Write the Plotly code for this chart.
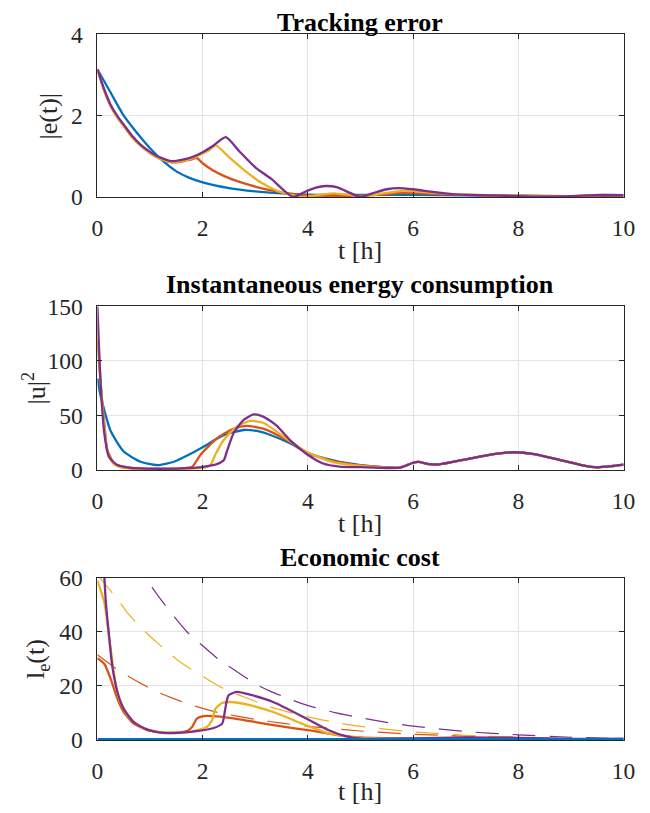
import plotly.graph_objects as go

# ---------------- data ----------------
# MATLAB default colour order
C_BLUE, C_ORANGE, C_YELLOW, C_PURPLE = "#0072BD", "#D95319", "#EDB120", "#7E2F8E"

# Tracking error |e(t)|
e_blue_t = [0, 0.25, 0.5, 0.75, 1.0, 1.25, 1.5, 1.75, 2.0, 2.5, 3.0, 3.5, 4.0, 5.0, 6.0, 7.0, 8.0, 9.0, 10.0]
e_blue_v = [3.14, 2.57, 2.0, 1.58, 1.2, 0.88, 0.63, 0.47, 0.36, 0.22, 0.14, 0.09, 0.06, 0.05, 0.05, 0.04, 0.03, 0.02, 0.02]

e_orange_t = [0, 0.12, 0.25, 0.4, 0.5, 0.65, 0.82, 1.0, 1.14, 1.3, 1.42, 1.6, 1.75, 1.89, 2.0, 2.2, 2.4, 2.7, 3.03, 3.35, 3.66, 4.0, 4.5, 5.0, 5.4, 5.8, 6.3, 7.0, 8.0, 9.0, 9.6, 10.0]
e_orange_v = [3.14, 2.65, 2.24, 1.92, 1.75, 1.49, 1.26, 1.08, 0.97, 0.89, 0.85, 0.87, 0.91, 0.955, 0.83, 0.65, 0.52, 0.37, 0.245, 0.15, 0.08, 0.04, 0.03, 0.03, 0.06, 0.1, 0.08, 0.05, 0.03, 0.02, 0.04, 0.04]

e_yellow_t = [0, 0.12, 0.25, 0.4, 0.5, 0.65, 0.82, 1.0, 1.14, 1.3, 1.42, 1.6, 1.8, 2.0, 2.12, 2.25, 2.5, 2.8, 3.1, 3.4, 3.66, 3.9, 4.2, 4.5, 4.8, 5.0, 5.4, 5.8, 6.3, 7.0, 8.0, 8.5, 9.0, 9.6, 10.0]
e_yellow_v = [3.14, 2.65, 2.24, 1.92, 1.75, 1.49, 1.26, 1.08, 0.97, 0.89, 0.86, 0.88, 0.95, 1.07, 1.15, 1.27, 0.98, 0.65, 0.36, 0.16, 0.06, 0.0, 0.05, 0.09, 0.05, 0.01, 0.08, 0.15, 0.11, 0.06, 0.03, 0.0, 0.02, 0.05, 0.045]

e_purple_t = [0, 0.12, 0.25, 0.4, 0.5, 0.65, 0.82, 1.0, 1.14, 1.3, 1.42, 1.6, 1.8, 2.0, 2.2, 2.44, 2.7, 3.0, 3.3, 3.72, 3.95, 4.15, 4.34, 4.55, 4.8, 5.0, 5.25, 5.5, 5.72, 6.0, 6.4, 6.8, 7.5, 8.0, 8.4, 9.0, 9.57, 10.0]
e_purple_v = [3.14, 2.68, 2.27, 1.95, 1.78, 1.52, 1.29, 1.11, 1.0, 0.92, 0.88, 0.91, 0.98, 1.1, 1.26, 1.47, 1.12, 0.73, 0.45, 0.0, 0.13, 0.23, 0.27, 0.24, 0.1, 0.0, 0.1, 0.19, 0.22, 0.19, 0.12, 0.065, 0.04, 0.02, 0.0, 0.02, 0.05, 0.045]

# Instantaneous energy consumption |u|^2
u_blue_t = [0, 0.06, 0.13, 0.25, 0.5, 0.82, 1.14, 1.45, 1.77, 2.0, 2.4, 2.78, 3.03, 3.35, 3.66, 4.0, 4.5, 5.0, 5.5, 5.75, 6.0, 6.1, 6.3, 6.5, 7.0, 7.5, 7.9, 8.3, 8.8, 9.2, 9.5, 9.8, 10.0]
u_blue_v = [84, 68, 55, 36, 17, 7.6, 4.6, 7.6, 15, 21, 32, 36.7, 35.8, 31, 24.5, 15.5, 8.6, 4.6, 2.5, 2.2, 6.7, 7.4, 5.5, 5.2, 9.8, 14.4, 16.3, 14.7, 9.2, 4.6, 2.5, 3.7, 4.9]

u_orange_t = [0, 0.06, 0.13, 0.19, 0.32, 0.5, 0.8, 1.2, 1.6, 1.8, 1.96, 2.27, 2.59, 2.84, 3.15, 3.66, 4.0, 4.5, 5.0, 5.5, 5.75, 6.0, 6.1, 6.3, 6.5, 7.0, 7.5, 7.9, 8.3, 8.8, 9.2, 9.5, 9.8, 10.0]
u_orange_v = [119, 80, 43, 18, 6, 3, 1.5, 1, 1.5, 3, 14, 29, 38, 40.4, 38, 26, 15.5, 8, 4.2, 2.4, 2.2, 6.7, 7.4, 5.5, 5.2, 9.8, 14.4, 16.3, 14.7, 9.2, 4.6, 2.5, 3.7, 4.9]

u_yellow_t = [0, 0.06, 0.13, 0.19, 0.3, 0.45, 0.7, 1.0, 1.5, 2.0, 2.15, 2.24, 2.4, 2.65, 2.9, 3.15, 3.66, 4.0, 4.5, 5.0, 5.5, 5.75, 6.0, 6.1, 6.3, 6.5, 7.0, 7.5, 7.9, 8.3, 8.8, 9.2, 9.5, 9.8, 10.0]
u_yellow_v = [132, 82, 40, 16, 6, 2.5, 1.2, 1, 1, 2, 4.6, 14, 27.5, 40, 45, 43.4, 26.5, 16, 7, 3.8, 2.3, 2.2, 6.7, 7.4, 5.5, 5.2, 9.8, 14.4, 16.3, 14.7, 9.2, 4.6, 2.5, 3.7, 4.9]

u_purple_t = [0, 0.06, 0.13, 0.22, 0.38, 0.6, 0.82, 1.2, 1.6, 2.0, 2.27, 2.4, 2.46, 2.59, 2.78, 2.97, 3.15, 3.4, 3.66, 3.97, 4.29, 4.6, 5.0, 5.5, 5.75, 6.0, 6.1, 6.3, 6.5, 7.0, 7.5, 7.9, 8.3, 8.8, 9.2, 9.5, 9.8, 10.0]
u_purple_v = [150, 80, 34, 12, 4.6, 2.2, 1.5, 1.2, 1.5, 3, 5.5, 9, 17, 34, 46, 51, 49, 41, 27.5, 15, 6, 3.2, 2.6, 1.9, 2.2, 6.7, 7.4, 5.5, 5.2, 9.8, 14.4, 16.3, 14.7, 9.2, 4.6, 2.5, 3.7, 4.9]

# Economic cost l_e(t): solid = realised cost, dashed = reference bound
l_blue_t = [0, 10]
l_blue_v = [0, 0]

l_orange_t = [0, 0.13, 0.25, 0.38, 0.5, 0.69, 0.95, 1.32, 1.7, 1.8, 1.89, 2.02, 2.27, 2.7, 3.0, 3.5, 4.0, 4.5, 5.0, 6.0, 7.0, 8.0, 9.0, 10.0]
l_orange_v = [30.3, 28.2, 22.7, 15.3, 10.4, 6.1, 3.7, 2.7, 3.4, 4.9, 8.0, 8.9, 8.8, 7.7, 6.7, 5.1, 3.7, 2.1, 1.0, 0.6, 0.5, 0.4, 0.2, 0.1]

l_yellow_t = [0, 0.13, 0.22, 0.32, 0.41, 0.57, 0.82, 1.14, 1.77, 2.08, 2.18, 2.24, 2.37, 2.52, 2.9, 3.34, 3.97, 4.4, 5.0, 6.0, 7.0, 8.0, 9.0, 10.0]
l_yellow_v = [58.8, 50.9, 38.6, 23.9, 15.3, 9.2, 4.9, 3.1, 3.1, 4.9, 7.4, 11.6, 13.7, 14.1, 12.9, 10.4, 5.5, 2.5, 0.9, 0.6, 0.7, 0.6, 0.3, 0.2]

l_purple_t = [0, 0.1, 0.16, 0.22, 0.28, 0.38, 0.5, 0.69, 0.95, 1.26, 1.77, 2.21, 2.37, 2.43, 2.49, 2.65, 2.9, 3.34, 3.97, 4.4, 4.7, 5.0, 6.0, 7.0, 8.0, 9.0, 10.0]
l_purple_v = [110, 72, 50.9, 38.6, 27.6, 17.8, 11.6, 6.7, 3.9, 2.7, 3.1, 4.5, 6.1, 11.6, 16.5, 17.8, 16.8, 14.1, 8.0, 3.7, 1.6, 0.6, 0.7, 1.0, 0.9, 0.5, 0.6]

lref_orange_t = [0, 0.4, 0.7, 1.1, 1.4, 1.85, 2.3, 3.0, 3.5, 4.0, 5.0, 6.0, 7.0, 8.0, 9.0, 10.0]
lref_orange_v = [31.5, 25.8, 22.3, 18.1, 15.7, 12.6, 10.2, 7.7, 6.3, 5.1, 3.4, 2.2, 1.5, 1.0, 0.6, 0.4]

lref_yellow_t = [0, 0.38, 0.57, 0.91, 1.14, 1.51, 1.77, 2.2, 2.46, 2.9, 3.22, 4.0, 4.6, 5.0, 6.0, 7.0, 8.0, 9.0, 10.0]
lref_yellow_v = [61, 52, 47, 40, 35.9, 29.8, 26.3, 21.2, 18.4, 15.1, 12.6, 8.6, 6.3, 5.1, 3.1, 1.8, 1.2, 0.6, 0.4]

lref_purple_t = [0, 0.5, 0.91, 1.2, 1.39, 1.7, 1.96, 2.33, 2.59, 3.0, 3.28, 3.72, 4.04, 4.51, 5.0, 5.5, 6.0, 7.0, 8.0, 9.0, 10.0]
lref_purple_v = [92, 72, 60, 52, 47.2, 40, 35.5, 29.4, 26.1, 20.8, 18.1, 14.7, 12.6, 10.2, 8.3, 6.6, 5.2, 3.2, 2.0, 1.1, 0.6]

x_ticks = [0, 2, 4, 6, 8, 10]
titles = ["Tracking error", "Instantaneous energy consumption", "Economic cost"]
y_labels = ["|e(t)|", "|u|<sup>2</sup>", "l<sub>e</sub>(t)"]
y_ranges = [[0, 4], [0, 150], [0, 60]]
y_ticks = [[0, 2, 4], [0, 50, 100, 150], [0, 20, 40, 60]]
x_label = "t [h]"

# ---------------- layout geometry ----------------
# Figure size in CSS pixels; the page shows it offset by the body margin.
W, H = 656, 821
AX_L, AX_R = 94, 635                                  # axes box, left/right
PANELS = [(22, 190), (303, 472), (583, 751)]          # axes box (top, bottom)
TITLE_Y = [0, 280, 562]
XLABEL_Y = [245, 527, 804]
YLABEL_X = [44, 29, 32]


def px(x):
    return x / W


def py(y):
    return 1 - y / H


FONT = "Tinos"
INK = "#262626"
GRID = "#e3e3e3"
TICK_SIZE, LABEL_SIZE, TITLE_SIZE = 23.5, 26, 26

fig = go.Figure()


def add(panel, t, v, color, width=2.3, dash=None, shape="spline"):
    sfx = "" if panel == 0 else str(panel + 1)
    fig.add_trace(go.Scatter(
        x=t, y=v, mode="lines", xaxis="x" + sfx, yaxis="y" + sfx,
        line=dict(color=color, width=width, dash=dash, shape=shape, smoothing=0.6),
        showlegend=False, hoverinfo="skip"))


add(0, e_blue_t, e_blue_v, C_BLUE)
add(0, e_orange_t, e_orange_v, C_ORANGE)
add(0, e_yellow_t, e_yellow_v, C_YELLOW)
add(0, e_purple_t, e_purple_v, C_PURPLE)

add(1, u_blue_t, u_blue_v, C_BLUE)
add(1, u_orange_t, u_orange_v, C_ORANGE)
add(1, u_yellow_t, u_yellow_v, C_YELLOW)
add(1, u_purple_t, u_purple_v, C_PURPLE)

DASH = "23px,14px"
add(2, lref_orange_t, lref_orange_v, C_ORANGE, 1.2, DASH)
add(2, lref_yellow_t, lref_yellow_v, C_YELLOW, 1.2, DASH)
add(2, lref_purple_t, lref_purple_v, C_PURPLE, 1.2, DASH)
add(2, l_orange_t, l_orange_v, C_ORANGE)
add(2, l_yellow_t, l_yellow_v, C_YELLOW)
add(2, l_purple_t, l_purple_v, C_PURPLE)
add(2, l_blue_t, l_blue_v, C_BLUE, 4.5, shape="linear")

axis_common = dict(
    showline=True, linecolor=INK, linewidth=1, mirror="ticks",
    ticks="inside", ticklen=5, tickcolor=INK, tickwidth=1,
    showgrid=True, gridcolor=GRID, gridwidth=1, zeroline=False,
    tickfont=dict(family=FONT, size=TICK_SIZE, color=INK),
)

annotations = []
for i, (top, bot) in enumerate(PANELS):
    sfx = "" if i == 0 else str(i + 1)
    fig.layout["xaxis" + sfx] = dict(
        axis_common, domain=[px(AX_L), px(AX_R)], range=[0, 10],
        tickvals=x_ticks, anchor="y" + sfx, ticklabelstandoff=10)
    fig.layout["yaxis" + sfx] = dict(
        axis_common, domain=[py(bot), py(top)], range=y_ranges[i],
        tickvals=y_ticks[i], anchor="x" + sfx, ticklabelstandoff=9)
    title = dict(
        text="<b>" + titles[i] + "</b>", x=px((AX_L + AX_R) / 2), y=py(TITLE_Y[i]),
        xref="paper", yref="paper", showarrow=False, xanchor="center", yanchor="middle",
        font=dict(family=FONT, size=TITLE_SIZE, color="#000000"))
    if i == 0:
        # top title hugs the upper edge of the figure
        title.update(yanchor="top", yshift=7)
    annotations.append(title)
    annotations.append(dict(
        text=x_label, x=px((AX_L + AX_R) / 2), y=py(XLABEL_Y[i]),
        xref="paper", yref="paper", showarrow=False, xanchor="center", yanchor="middle",
        font=dict(family=FONT, size=LABEL_SIZE, color=INK)))
    annotations.append(dict(
        text=y_labels[i], x=px(YLABEL_X[i]), y=py((top + bot) / 2),
        xref="paper", yref="paper", showarrow=False, xanchor="center", yanchor="middle",
        textangle=-90, font=dict(family=FONT, size=LABEL_SIZE, color=INK)))

fig.update_layout(
    width=W, height=H, autosize=False,
    margin=dict(l=0, r=0, t=0, b=0),
    paper_bgcolor="white", plot_bgcolor="white",
    font=dict(family=FONT, color=INK),
    annotations=annotations,
)

fig.write_html("out.html")
